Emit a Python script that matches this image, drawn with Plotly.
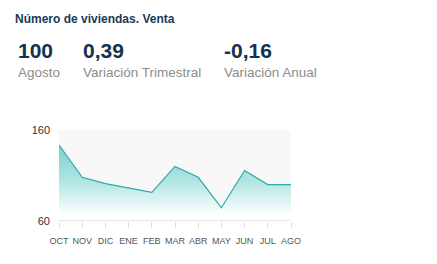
import plotly.graph_objects as go

months = ["OCT", "NOV", "DIC", "ENE", "FEB", "MAR", "ABR", "MAY", "JUN", "JUL", "AGO"]
values = [143.5, 108, 101, 96.5, 91.5, 120, 108, 74.5, 115.5, 100, 100]
y_ticks = [60, 160]

kpi_values = ["100", "0,39", "-0,16"]
kpi_labels = ["Agosto", "Variación Trimestral", "Variación Anual"]
title_text = "Número de viviendas. Venta"

W, H = 437, 264
L, R, T, B = 59, 146, 130, 43
pw, ph = W - L - R, H - T - B

def px(x):
    return (x - L) / pw

def py(y):
    return (H - B - y) / ph

fig = go.Figure()
fig.add_trace(go.Scatter(
    x=months, y=values, mode="lines",
    line=dict(color="#2fa9a6", width=1.2),
    fill="tozeroy",
    fillgradient=dict(type="vertical", start=145, stop=67,
                      colorscale=[[0, "rgb(120,208,205)"], [0.55, "rgb(180,230,228)"],
                                  [1, "rgb(255,255,255)"]]),
    hoverinfo="skip",
))

ann = [dict(text="<b>" + title_text + "</b>", x=px(13), y=py(19), xanchor="left", yanchor="middle",
            font=dict(size=12, color="#1b3a57", family="Liberation Sans"))]
kx = [17, 82, 223]
for xv, v, lab in zip(kx, kpi_values, kpi_labels):
    ann.append(dict(text="<b>" + v + "</b>", x=px(xv - 1), y=py(50.5), xanchor="left", yanchor="middle",
                    font=dict(size=21, color="#12324f", family="Liberation Sans")))
    ann.append(dict(text=lab, x=px(xv - 1), y=py(72), xanchor="left", yanchor="middle",
                    font=dict(size=13.5, color="#8c8c8c", family="Liberation Sans")))
for a in ann:
    a.update(xref="paper", yref="paper", showarrow=False)

fig.update_layout(
    width=W, height=H, margin=dict(l=L, r=R, t=T, b=B),
    paper_bgcolor="white", plot_bgcolor="#f8f8f8",
    showlegend=False, annotations=ann,
    font=dict(family="Liberation Sans"),
    xaxis=dict(type="category", range=[0, 10], showgrid=False, zeroline=False,
               showline=False, ticks="outside", ticklen=6, tickcolor="#dddddd",
               ticklabelstandoff=5,
               tickfont=dict(size=9, color="#555555"), fixedrange=True),
    yaxis=dict(range=[60, 160], tickvals=y_ticks, showgrid=True, gridcolor="#e6e6e6",
               gridwidth=1.5, zeroline=False, showline=False,
               tickfont=dict(size=11, color="#333333"), ticklabelstandoff=8, fixedrange=True),
)
fig.add_shape(type="line", xref="paper", yref="y", x0=0, x1=1, y0=60, y1=60,
              line=dict(color="#dddddd", width=1.5))
fig.write_html("out.html")
